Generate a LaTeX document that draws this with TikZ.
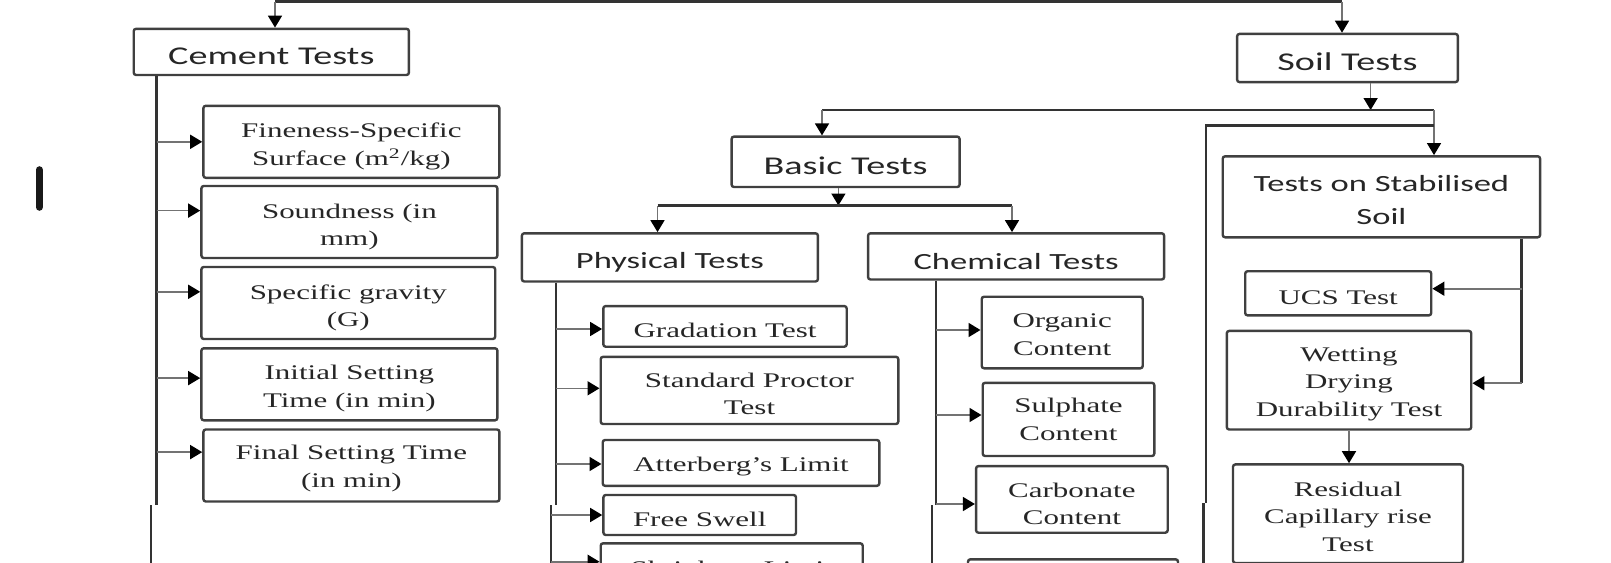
\documentclass[tikz,border=0pt]{standalone}
\usepackage{fontspec}
\setmainfont{Liberation Serif}[FakeStretch=1.49]
\newfontfamily\headfont{Carlito}[FakeStretch=1.49]
\usetikzlibrary{arrows.meta}

\begin{document}
\begin{tikzpicture}[
    x=0.5pt, y=-0.5pt,
    every node/.style={inner sep=1.5pt},
    textdrop/.style={execute at begin node={\rule{0pt}{#1}}},
    testbox/.style={draw=black!75, line width=1.2pt, rounded corners=1.2pt, align=center,
        text=black!85, font=\fontsize{10.4}{13.8}\selectfont, textdrop=11.2pt},
    headbox/.style={testbox, font=\headfont\fontsize{12.8}{16.4}\selectfont, textdrop=12.8pt},
    subhead/.style={headbox, font=\headfont\fontsize{11.6}{16.4}\selectfont, textdrop=10.2pt},
    trunk/.style={draw=black!80, line width=1.3pt},
    stem/.style={-{Triangle[length=6pt, width=7pt, color=black]}, draw=black!55, line width=0.8pt}
]
\useasboundingbox (0,0) rectangle (1611,562);
\clip (0,0) rectangle (1611,562);

% cursor mark
\draw[line width=3.8pt, line cap=round, black!90] (39.3,170) -- (39.3,207);

% top level
\node[headbox, minimum width=137.6pt, minimum height=23.1pt] (cement) at (271.3,51.9) {Cement Tests};
\node[headbox, minimum width=110.4pt, minimum height=24.1pt] (soil) at (1347.5,58) {Soil Tests};

% cement tests
\node[testbox, textdrop=26pt, minimum width=148pt, minimum height=36pt] (fine) at (351.4,141.8) {Fineness-Specific\\Surface (m\textsuperscript{2}/kg)};
\node[testbox, textdrop=26pt, minimum width=148pt, minimum height=36pt] (sound) at (349.4,222) {Soundness (in\\mm)};
\node[testbox, textdrop=26pt, minimum width=146.9pt, minimum height=36pt] (grav) at (348.3,303) {Specific gravity\\(G)};
\node[testbox, textdrop=25pt, minimum width=148pt, minimum height=36pt] (init) at (349.4,384.3) {Initial Setting\\Time (in min)};
\node[testbox, textdrop=24pt, minimum width=148pt, minimum height=36pt] (final) at (351.4,465.5) {Final Setting Time\\(in min)};

% soil tests
\node[headbox, minimum width=114pt, minimum height=25.2pt] (basic) at (845.6,161.8) {Basic Tests};
\node[subhead, minimum width=148pt, minimum height=24.1pt] (phys) at (669.9,257.4) {Physical Tests};
\node[subhead, minimum width=148pt, minimum height=23.1pt] (chem) at (1016.1,256.4) {Chemical Tests};
\node[subhead, textdrop=27.6pt, minimum width=158.7pt, minimum height=40.5pt] (stab) at (1381.4,196.8) {Tests on Stabilised\\Soil};

\node[testbox, minimum width=121.7pt, minimum height=20.3pt] (grad) at (725,326.4) {Gradation Test};
\node[testbox, textdrop=24.5pt, minimum width=148.8pt, minimum height=33.6pt] (proctor) at (749.5,390.4) {Standard Proctor\\Test};
\node[testbox, minimum width=138.3pt, minimum height=22.9pt] (atter) at (741,462.9) {Atterberg's Limit};
\node[testbox, minimum width=96.3pt, minimum height=20pt] (swell) at (699.7,515) {Free Swell};
\node[testbox, minimum width=131pt, minimum height=23pt] (shrink) at (731.7,566.3) {Shrinkage Limit};

\node[testbox, textdrop=23pt, minimum width=80.5pt, minimum height=35.8pt] (organic) at (1062.2,332.5) {Organic\\Content};
\node[testbox, minimum width=85.8pt, minimum height=36.6pt] (sulph) at (1068.5,419.4) {Sulphate\\Content};
\node[testbox, textdrop=25.5pt, minimum width=95.8pt, minimum height=33.3pt] (carb) at (1071.9,499.4) {Carbonate\\Content};
\node[testbox, minimum width=105pt, minimum height=35.7pt] (chemnext) at (1073,595) {};

\node[testbox, textdrop=10pt, minimum width=93pt, minimum height=22.1pt] (ucs) at (1338.2,293.3) {UCS Test};
\node[testbox, textdrop=38.3pt, minimum width=122.2pt, minimum height=49.3pt] (wet) at (1349,380.2) {Wetting\\Drying\\Durability Test};
\node[testbox, textdrop=37.8pt, minimum width=115pt, minimum height=49.3pt] (resid) at (1348,513.7) {Residual\\Capillary rise\\Test};

% top split
\coordinate (topL) at (275,1.5);
\coordinate (topR) at (1342,1.5);
\draw[trunk] (topL) -- (topR);
\draw[stem] (topL) -- (topL |- cement.north);
\draw[stem] (topR) -- (topR |- soil.north);

% soil split
\coordinate (sj) at (1370.6,110);
\coordinate (bj) at (822,110);
\coordinate (stj) at (1434,110);
\coordinate (lj) at (1206,125.3);
\draw[stem] (soil.south -| sj) -- (sj);
\draw[trunk] (bj) -- (stj);
\draw[stem] (bj) -- (bj |- basic.north);
\draw[stem] (stj) -- (stj |- stab.north);
\draw[trunk] (stj |- lj) -- (lj) -- (1206,503);
\draw[trunk] (1203.3,503) -- (1203.3,570);

% basic split
\coordinate (pj) at (838.4,205.5);
\coordinate (phj) at (657.5,205.5);
\coordinate (chj) at (1012,205.5);
\draw[stem] (basic.south -| pj) -- (pj);
\draw[trunk] (phj) -- (chj);
\draw[stem] (phj) -- (phj |- phys.north);
\draw[stem] (chj) -- (chj |- chem.north);

% cement branches
\coordinate (ct) at (156.5,505);
\draw[trunk] (cement.south -| ct) -- (ct);
\draw[trunk] (151,505) -- (151,570);
\draw[stem] (ct |- 0,141.8) -- (fine.west |- 0,141.8);
\draw[stem] (ct |- 0,210.6) -- (sound.west |- 0,210.6);
\draw[stem] (ct |- 0,291.8) -- (grav.west |- 0,291.8);
\draw[stem] (ct |- 0,378.1) -- (init.west |- 0,378.1);
\draw[stem] (ct |- 0,452.1) -- (final.west |- 0,452.1);

% physical branches
\coordinate (pt) at (555.8,505);
\draw[trunk] (phys.south -| pt) -- (pt);
\draw[trunk] (551,505) -- (551,570);
\draw[stem] (pt |- 0,329) -- (grad.west |- 0,329);
\draw[stem] (pt |- 0,388.3) -- (proctor.west |- 0,388.3);
\draw[stem] (pt |- 0,464) -- (atter.west |- 0,464);
\draw[stem] (551,515) -- (swell.west |- 0,515);
\draw[stem] (551,561.7) -- (shrink.west |- 0,561.7);

% chemical branches
\coordinate (cht) at (936,505);
\draw[trunk] (chem.south -| cht) -- (cht);
\draw[trunk] (932,505) -- (932,570);
\draw[stem] (cht |- 0,330) -- (organic.west |- 0,330);
\draw[stem] (cht |- 0,415) -- (sulph.west |- 0,415);
\draw[stem] (cht |- 0,504) -- (carb.west |- 0,504);

% stabilised branches
\coordinate (st) at (1521.6,383.2);
\draw[trunk] (stab.south -| st) -- (st);
\draw[stem] (st |- 0,288.7) -- (ucs.east |- 0,288.7);
\draw[stem] (st) -- (wet.east |- st);
\draw[stem] (wet.south) -- (wet.south |- resid.north);

\end{tikzpicture}
\end{document}
